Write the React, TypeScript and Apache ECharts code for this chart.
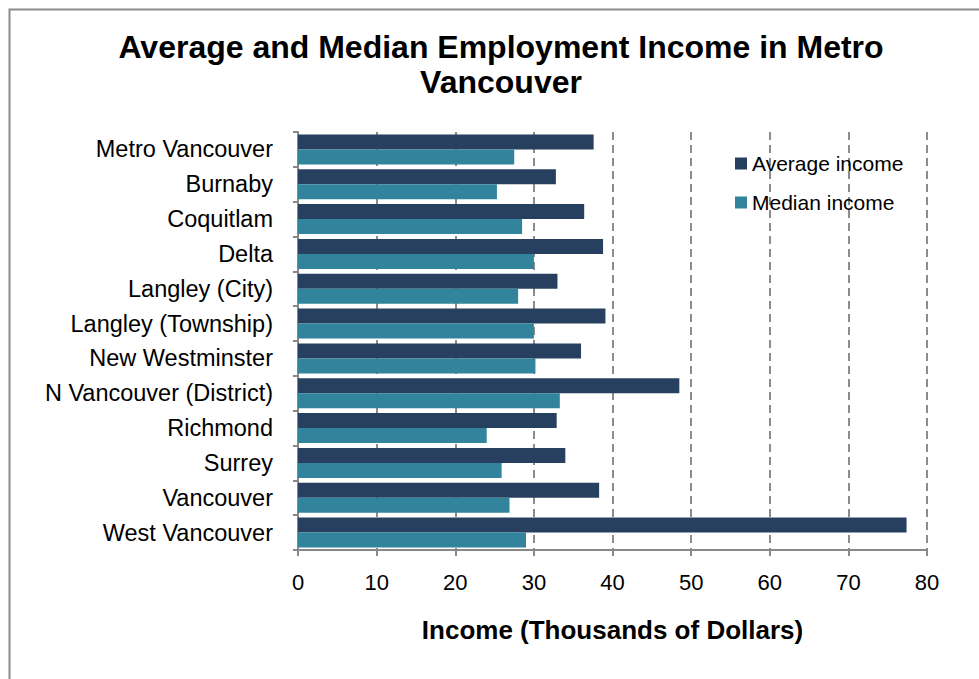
import React, { useEffect, useRef } from "react";
import * as echarts from "echarts";

const categories = [
  "Metro Vancouver",
  "Burnaby",
  "Coquitlam",
  "Delta",
  "Langley (City)",
  "Langley (Township)",
  "New Westminster",
  "N Vancouver (District)",
  "Richmond",
  "Surrey",
  "Vancouver",
  "West Vancouver",
];
const averageIncome = [37.6, 32.8, 36.4, 38.8, 33.0, 39.1, 36.0, 48.5, 32.9, 34.0, 38.3, 77.4];
const medianIncome = [27.5, 25.3, 28.5, 30.0, 28.0, 30.0, 30.2, 33.3, 24.0, 25.9, 26.9, 29.0];
const seriesNames = ["Average income", "Median income"];
const titleText = "Average and Median Employment Income in Metro\nVancouver";
const xAxisName = "Income (Thousands of Dollars)";

const FONT = '"Liberation Sans", Arial, sans-serif';

export default function App() {
  const ref = useRef<HTMLDivElement>(null);
  useEffect(() => {
    if (!ref.current) return;
    const chart = echarts.init(ref.current, undefined, { renderer: "svg" });
    chart.setOption({
      animation: false,
      backgroundColor: "#ffffff",
      textStyle: { fontFamily: FONT },
      graphic: [
        {
          type: "rect",
          shape: { x: 9.5, y: 9.5, width: 1100, height: 1100 },
          style: { fill: "none", stroke: "#8c8c8c", lineWidth: 2 },
          silent: true,
        },
        {
          type: "text",
          x: 501,
          y: 29,
          style: {
            text: titleText,
            font: `bold 32px ${FONT}`,
            fill: "#000000",
            align: "center",
            verticalAlign: "top",
            lineHeight: 35,
          },
        },
      ],
      legend: {
        orient: "vertical",
        left: 730,
        top: 148,
        itemWidth: 12,
        itemHeight: 12,
        itemGap: 18,
        icon: "rect",
        textStyle: { fontSize: 21, color: "#000000", fontFamily: FONT },
        data: seriesNames,
      },
      grid: { left: 298, right: 52, top: 132, bottom: 129, containLabel: false },
      xAxis: {
        type: "value",
        min: 0,
        max: 80,
        interval: 10,
        name: xAxisName,
        nameLocation: "middle",
        nameGap: 67,
        nameTextStyle: { fontSize: 26, fontWeight: "bold", color: "#000000", fontFamily: FONT },
        axisLine: { show: true, lineStyle: { color: "#888888", width: 2 } },
        axisTick: { show: true, length: 6, lineStyle: { color: "#888888", width: 2 } },
        axisLabel: { fontSize: 22, color: "#000000", margin: 21, fontFamily: FONT },
        splitLine: {
          show: true,
          lineStyle: { color: "#8c8c8c", width: 2, type: [8, 5] },
        },
      },
      yAxis: {
        type: "category",
        inverse: true,
        data: categories,
        axisLine: { show: true, lineStyle: { color: "#888888", width: 2 } },
        axisTick: { show: true, length: 5, lineStyle: { color: "#888888", width: 2 } },
        axisLabel: { fontSize: 23.5, color: "#000000", margin: 25, fontFamily: FONT },
        splitLine: { show: false },
      },
      series: [
        {
          name: seriesNames[0],
          type: "bar",
          data: averageIncome,
          barCategoryGap: "14%",
          barGap: "0%",
          itemStyle: { color: "#27405f" },
        },
        {
          name: seriesNames[1],
          type: "bar",
          data: medianIncome,
          barCategoryGap: "14%",
          barGap: "0%",
          itemStyle: { color: "#31849b" },
        },
      ],
    });
    return () => chart.dispose();
  }, []);
  return (
    <div
      ref={ref}
      style={{ position: "fixed", left: 0, top: 0, width: 979, height: 679 }}
    />
  );
}
